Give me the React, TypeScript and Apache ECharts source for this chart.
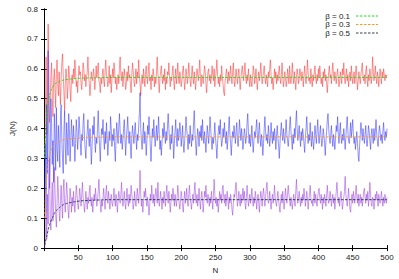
import React, { useEffect, useRef } from "react";
import * as echarts from "echarts";

// one value per N = 1 .. 500
const red: number[] = [
  .30,.45,.64,.38,.52,.75,.60,.42,.48,.58,
  .62,.50,.44,.56,.60,.53,.47,.58,.63,.55,
  .51,.59,.54,.48,.57,.62,.65,.58,.52,.46,
  .55,.60,.57,.50,.54,.61,.58,.53,.49,.56,
  .58,.55,.60,.57,.63,.59,.54,.56,.52,.57,
  .61,.58,.59,.55,.53,.57,.62,.60,.56,.58,
  .54,.57,.59,.64,.58,.55,.51,.55,.59,.57,
  .56,.60,.58,.53,.56,.61,.57,.59,.62,.56,
  .55,.52,.57,.55,.58,.60,.56,.54,.59,.63,
  .58,.57,.54,.56,.61,.55,.58,.52,.56,.60,
  .57,.62,.59,.55,.57,.53,.56,.58,.55,.61,
  .64,.58,.56,.59,.54,.57,.60,.57,.53,.55,
  .59,.56,.61,.57,.58,.55,.52,.58,.62,.59,
  .56,.54,.57,.60,.55,.59,.57,.63,.58,.55,
  .51,.56,.58,.55,.60,.57,.54,.59,.61,.57,
  .55,.59,.62,.56,.57,.53,.58,.56,.60,.58,
  .54,.57,.55,.59,.64,.58,.56,.52,.57,.59,
  .61,.57,.55,.58,.56,.60,.53,.57,.55,.59,
  .58,.62,.57,.54,.57,.56,.59,.61,.56,.53,
  .57,.60,.55,.58,.62,.57,.55,.59,.57,.54,
  .56,.59,.61,.57,.53,.56,.60,.58,.55,.57,
  .62,.58,.56,.54,.58,.61,.57,.55,.59,.56,
  .53,.57,.60,.58,.56,.59,.63,.57,.54,.58,
  .57,.55,.58,.61,.59,.55,.52,.56,.59,.60,
  .56,.58,.55,.57,.61,.58,.56,.60,.54,.57,
  .59,.63,.58,.55,.57,.54,.58,.56,.61,.57,
  .55,.52,.51,.56,.58,.60,.57,.55,.59,.56,
  .58,.61,.57,.55,.59,.62,.56,.54,.57,.60,
  .57,.55,.58,.60,.56,.53,.57,.59,.61,.58,
  .56,.59,.62,.57,.55,.58,.56,.60,.57,.54,
  .58,.56,.54,.57,.61,.59,.55,.57,.60,.56,
  .53,.57,.59,.56,.58,.62,.58,.55,.57,.59,
  .61,.57,.55,.58,.56,.54,.59,.57,.60,.63,
  .58,.55,.57,.53,.56,.60,.57,.59,.55,.58,
  .56,.59,.61,.57,.55,.58,.62,.57,.54,.56,
  .59,.57,.54,.56,.60,.58,.55,.61,.57,.55,
  .58,.62,.57,.55,.59,.56,.53,.57,.60,.58,
  .55,.57,.60,.58,.56,.59,.57,.54,.58,.61,
  .57,.55,.58,.63,.59,.56,.57,.55,.60,.57,
  .54,.58,.56,.59,.61,.57,.55,.58,.56,.60,
  .57,.61,.58,.55,.57,.54,.59,.57,.60,.56,
  .58,.55,.52,.56,.59,.61,.57,.58,.55,.59,
  .62,.58,.56,.59,.57,.55,.58,.60,.57,.54,
  .56,.59,.57,.55,.60,.58,.62,.57,.55,.58,
  .60,.56,.58,.54,.57,.59,.56,.61,.58,.55,
  .57,.59,.55,.58,.61,.57,.53,.56,.59,.57,
  .55,.58,.60,.62,.57,.56,.58,.55,.59,.61,
  .57,.54,.58,.56,.60,.58,.55,.57,.64,.59,
  .56,.58,.61,.57,.55,.59,.57,.54,.58,.60,
  .57,.55,.59,.57,.60,.58,.56,.58,.57,.58,
];
const blue: number[] = [
  .15,.35,.12,.48,.25,.66,.40,.20,.30,.50,
  .42,.28,.36,.22,.45,.38,.26,.47,.33,.29,
  .41,.35,.27,.44,.48,.36,.30,.25,.39,.46,
  .34,.28,.42,.37,.31,.45,.40,.29,.35,.43,
  .38,.34,.41,.36,.29,.35,.43,.39,.33,.37,
  .44,.40,.35,.31,.38,.36,.42,.45,.37,.33,
  .30,.36,.39,.43,.37,.34,.40,.35,.28,.34,
  .41,.38,.44,.36,.32,.37,.35,.40,.46,.39,
  .34,.29,.36,.40,.38,.43,.37,.33,.39,.35,
  .42,.37,.31,.35,.39,.36,.44,.40,.34,.38,
  .36,.40,.33,.29,.37,.42,.38,.35,.41,.45,
  .39,.35,.38,.33,.36,.40,.43,.37,.31,.36,
  .40,.44,.38,.35,.39,.34,.30,.37,.41,.38,
  .35,.39,.42,.37,.33,.38,.36,.41,.45,.52,
  .40,.36,.33,.38,.42,.35,.39,.37,.31,.36,
  .41,.38,.44,.39,.34,.29,.35,.40,.37,.43,
  .38,.34,.37,.41,.36,.39,.44,.38,.33,.36,
  .31,.35,.40,.37,.42,.38,.35,.39,.36,.41,
  .45,.40,.36,.33,.38,.35,.41,.37,.30,.35,
  .39,.43,.37,.34,.40,.36,.38,.42,.39,.34,
  .37,.41,.35,.32,.36,.39,.44,.40,.37,.33,
  .38,.35,.41,.37,.34,.38,.36,.42,.46,.39,
  .35,.31,.36,.40,.38,.34,.39,.37,.41,.36,
  .43,.38,.35,.39,.36,.32,.37,.41,.38,.35,
  .39,.44,.40,.36,.33,.37,.35,.38,.42,.37,
  .34,.30,.35,.39,.41,.38,.43,.37,.34,.36,
  .40,.37,.42,.38,.35,.39,.33,.36,.40,.44,
  .38,.35,.31,.36,.39,.37,.41,.38,.35,.39,
  .42,.36,.34,.38,.43,.39,.36,.40,.37,.33,
  .36,.40,.38,.35,.37,.42,.45,.39,.35,.38,
  .34,.37,.41,.36,.32,.36,.39,.37,.40,.43,
  .38,.35,.39,.42,.37,.34,.38,.36,.31,.35,
  .40,.44,.39,.36,.38,.35,.41,.38,.34,.37,
  .42,.38,.35,.39,.36,.40,.37,.33,.38,.41,
  .37,.34,.30,.35,.39,.42,.38,.36,.40,.37,
  .35,.39,.43,.38,.36,.34,.37,.41,.44,.39,
  .36,.33,.38,.35,.40,.37,.42,.46,.40,.36,
  .38,.41,.37,.34,.39,.36,.40,.38,.35,.32,
  .37,.40,.44,.39,.35,.38,.36,.42,.37,.34,
  .39,.36,.33,.37,.41,.38,.35,.39,.43,.38,
  .35,.38,.41,.37,.34,.36,.40,.38,.35,.31,
  .36,.39,.43,.45,.40,.37,.35,.38,.41,.37,
  .34,.38,.36,.33,.37,.41,.39,.44,.38,.35,
  .39,.42,.37,.35,.38,.36,.40,.37,.33,.37,
  .41,.44,.39,.36,.35,.38,.42,.37,.40,.43,
  .38,.35,.37,.33,.36,.39,.35,.31,.29,.34,
  .38,.42,.39,.36,.40,.37,.35,.38,.41,.36,
  .34,.37,.41,.39,.36,.33,.38,.40,.37,.35,
  .40,.36,.39,.43,.38,.36,.34,.38,.41,.39,
  .36,.38,.35,.39,.42,.38,.36,.39,.37,.40,
];
const purple: number[] = [
  .00,.04,.12,.03,.18,.08,.25,.30,.10,.06,
  .16,.22,.09,.13,.27,.20,.11,.07,.15,.24,
  .18,.12,.09,.16,.21,.14,.10,.19,.23,.15,
  .12,.17,.22,.18,.13,.10,.15,.20,.17,.12,
  .17,.14,.19,.15,.12,.16,.21,.18,.15,.13,
  .16,.20,.17,.14,.18,.22,.17,.15,.12,.15,
  .19,.16,.13,.17,.15,.19,.21,.16,.14,.17,
  .12,.15,.18,.16,.20,.17,.14,.16,.19,.23,
  .18,.15,.12,.16,.14,.17,.20,.16,.13,.18,
  .21,.17,.15,.19,.16,.13,.16,.18,.15,.14,
  .17,.20,.16,.14,.18,.15,.12,.16,.19,.17,
  .15,.18,.22,.17,.14,.16,.19,.15,.13,.17,
  .20,.16,.14,.18,.15,.17,.21,.18,.16,.13,
  .15,.19,.16,.14,.17,.20,.17,.15,.19,.26,
  .18,.14,.16,.12,.15,.19,.17,.20,.16,.14,
  .17,.15,.11,.14,.18,.16,.21,.17,.15,.18,
  .14,.17,.20,.18,.15,.22,.17,.14,.16,.19,
  .16,.13,.17,.15,.19,.16,.14,.18,.21,.17,
  .15,.19,.16,.12,.15,.18,.16,.20,.17,.14,
  .18,.16,.14,.17,.21,.18,.15,.13,.16,.19,
  .17,.14,.12,.16,.19,.15,.17,.20,.16,.14,
  .18,.21,.17,.15,.13,.16,.18,.15,.19,.22,
  .17,.15,.18,.14,.16,.20,.16,.13,.17,.19,
  .16,.12,.15,.19,.17,.21,.17,.15,.18,.16,
  .14,.17,.15,.19,.16,.13,.18,.23,.18,.15,
  .17,.14,.16,.12,.15,.19,.16,.18,.15,.20,
  .21,.17,.15,.18,.14,.16,.19,.16,.13,.17,
  .15,.18,.16,.13,.11,.15,.18,.17,.20,.22,
  .17,.14,.16,.19,.16,.14,.18,.15,.17,.20,
  .16,.19,.15,.13,.17,.21,.17,.14,.16,.18,
  .15,.17,.20,.16,.14,.17,.15,.19,.17,.13,
  .16,.18,.15,.12,.16,.19,.17,.14,.18,.20,
  .17,.14,.17,.20,.22,.18,.15,.16,.19,.16,
  .13,.16,.18,.15,.17,.21,.17,.15,.14,.17,
  .19,.16,.14,.12,.16,.18,.15,.19,.16,.13,
  .17,.20,.17,.15,.18,.21,.18,.16,.14,.17,
  .15,.13,.16,.18,.16,.14,.19,.23,.18,.15,
  .17,.19,.16,.14,.17,.15,.18,.16,.20,.17,
  .14,.16,.19,.17,.13,.16,.18,.21,.17,.15,
  .16,.14,.17,.19,.15,.18,.16,.14,.17,.19,
  .20,.17,.15,.18,.16,.13,.17,.15,.18,.16,
  .14,.18,.21,.17,.15,.16,.19,.17,.14,.16,
  .18,.15,.17,.13,.16,.19,.22,.18,.15,.17,
  .14,.17,.19,.16,.13,.15,.17,.19,.24,.18,
  .16,.14,.17,.20,.16,.13,.12,.16,.18,.15,
  .19,.17,.15,.18,.21,.17,.15,.18,.14,.16,
  .18,.15,.17,.14,.16,.19,.20,.17,.15,.18,
  .16,.19,.14,.17,.22,.18,.15,.14,.17,.16,
  .13,.15,.18,.16,.19,.17,.14,.18,.16,.15,
  .17,.19,.16,.14,.17,.15,.18,.16,.15,.17,
];

const avgN: number[] = [1, 3, 5, 7, 10, 13, 16, 20, 25, 30, 40, 50, 60, 80, 100, 150, 200, 300, 400, 500];
const avg01: number[] = [0.30, 0.42, 0.47, 0.50, 0.525, 0.54, 0.55, 0.555, 0.56, 0.563, 0.566, 0.568, 0.569, 0.57, 0.571, 0.571, 0.571, 0.571, 0.571, 0.571];
const avg03: number[] = [0.10, 0.20, 0.26, 0.30, 0.325, 0.34, 0.348, 0.355, 0.36, 0.363, 0.366, 0.368, 0.37, 0.371, 0.372, 0.372, 0.372, 0.372, 0.372, 0.372];
const avg05: number[] = [0.01, 0.03, 0.05, 0.07, 0.09, 0.105, 0.12, 0.13, 0.14, 0.147, 0.153, 0.157, 0.159, 0.161, 0.162, 0.162, 0.162, 0.162, 0.162, 0.162];

const legendNames = ["β = 0.1", "β = 0.3", "β = 0.5"];
const avgColors = ["#22dd22", "#ff9a1a", "#2f3f4f"];
const xTicks = { min: 0, max: 500, interval: 50 };
const yTicks = { min: 0, max: 0.8, interval: 0.1 };

const FONT = "Liberation Sans, Arial, sans-serif";

export default function App() {
  const ref = useRef<HTMLDivElement>(null);
  useEffect(() => {
    document.body.style.margin = "0";
    if (!ref.current) return;
    const chart = echarts.init(ref.current, null, { renderer: "svg" });
    const noisy = (arr: number[]) => arr.map((v, i) => [i + 1, v]);
    const avg = (arr: number[]) => arr.map((v, i) => [avgN[i], v]);
    const tickStyle = { show: true, inside: true, length: 3, lineStyle: { color: "#000", width: 1 } };
    const axisLine = { show: true, lineStyle: { color: "#000", width: 1 } };
    const legendGraphics: any[] = [];
    legendNames.forEach((name, i) => {
      const y = 16 + i * 8.5;
      legendGraphics.push({
        type: "text",
        x: 350,
        y,
        style: { text: name, fontSize: 8, fontFamily: FONT, fill: "#222", textAlign: "right", textVerticalAlign: "middle" },
        z: 10,
      });
      legendGraphics.push({
        type: "line",
        shape: { x1: 356, y1: y, x2: 378, y2: y },
        style: { stroke: avgColors[i], lineWidth: 1, lineDash: [2.5, 1.5] },
        z: 10,
      });
    });
    chart.setOption({
      animation: false,
      backgroundColor: "#fff",
      grid: { left: 43, right: 12, top: 9, bottom: 26 },
      graphic: legendGraphics,
      xAxis: [
        {
          type: "value",
          ...xTicks,
          position: "bottom",
          name: "N",
          nameLocation: "middle",
          nameGap: 14,
          nameTextStyle: { fontSize: 8, fontFamily: FONT, color: "#222" },
          axisLine,
          axisTick: tickStyle,
          splitLine: { show: false },
          axisLabel: {
            fontSize: 8,
            fontFamily: FONT,
            color: "#222",
            margin: 5,
            formatter: (v: number) => (v === 0 ? "" : String(v)),
          },
        },
        {
          type: "value",
          ...xTicks,
          position: "top",
          axisLine,
          axisTick: tickStyle,
          splitLine: { show: false },
          axisLabel: { show: false },
        },
      ],
      yAxis: [
        {
          type: "value",
          ...yTicks,
          position: "left",
          name: "J(N)",
          nameLocation: "middle",
          nameGap: 27,
          nameRotate: 90,
          nameTextStyle: { fontSize: 8, fontFamily: FONT, color: "#222" },
          axisLine,
          axisTick: tickStyle,
          splitLine: { show: false },
          axisLabel: {
            fontSize: 8,
            fontFamily: FONT,
            color: "#222",
            margin: 6,
            formatter: (v: number) => (v === 0 ? "0" : v.toFixed(1)),
          },
        },
        {
          type: "value",
          ...yTicks,
          position: "right",
          axisLine,
          axisTick: tickStyle,
          splitLine: { show: false },
          axisLabel: { show: false },
        },
      ],
      series: [
        { name: "red", type: "line", data: noisy(red), symbol: "none", lineStyle: { color: "#ff3030", width: 0.7, opacity: 0.75 } },
        { name: "blue", type: "line", data: noisy(blue), symbol: "none", lineStyle: { color: "#3030ff", width: 0.7, opacity: 0.75 } },
        { name: "purple", type: "line", data: noisy(purple), symbol: "none", lineStyle: { color: "#9a3ee0", width: 0.7, opacity: 0.75 } },
        ...legendNames.map((name, i) => ({
          name,
          type: "line",
          data: avg([avg01, avg03, avg05][i]),
          symbol: "none",
          smooth: true,
          lineStyle: { color: avgColors[i], width: 1, type: [2.5, 1.5] },
        })),
      ],
    });
    return () => chart.dispose();
  }, []);
  return <div ref={ref} style={{ width: 399, height: 279 }} />;
}
